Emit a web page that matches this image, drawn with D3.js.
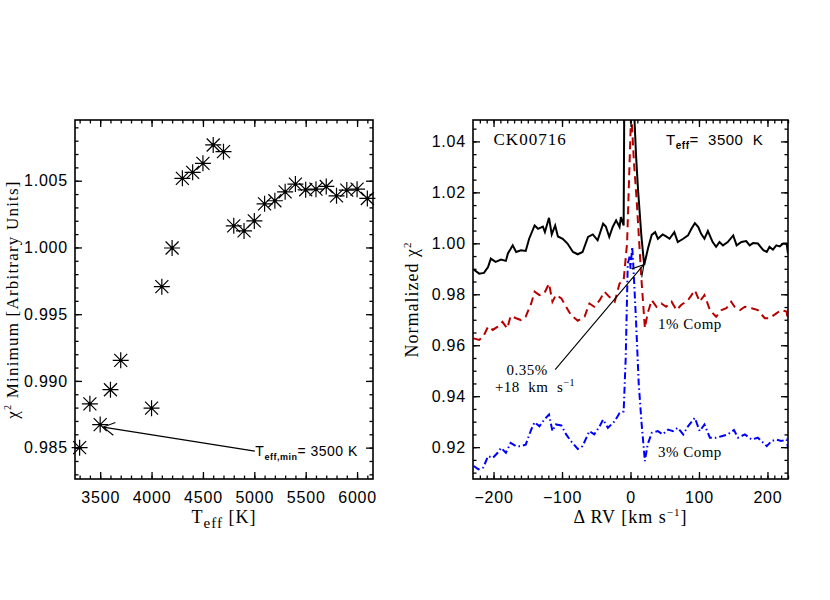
<!DOCTYPE html>
<html>
<head>
<meta charset="utf-8">
<script src="https://cdn.jsdelivr.net/npm/d3@7"></script>
<style>
body { margin: 0; background: #fff; }
svg text { fill: #000; }
.serif { font-family: "Liberation Serif", "DejaVu Serif", serif; }
.sans { font-family: "Liberation Sans", Arial, sans-serif; }
</style>
</head>
<body>
<div id="chart"></div>
<script>
// left panel: chi^2 minimum vs. template Teff
var teff = [3300, 3400, 3500, 3600, 3700, 4000, 4100, 4200, 4300, 4400, 4500, 4600, 4700, 4800,
            4900, 5000, 5100, 5200, 5300, 5400, 5500, 5600, 5700, 5800, 5900, 6000, 6100];
var chiMin = [0.98500, 0.98828, 0.98673, 0.98934, 0.99154, 0.98796, 0.99706, 0.99996, 1.00518,
              1.00563, 1.00630, 1.00768, 1.00718, 1.00162, 1.00124, 1.00199, 1.00327, 1.00350,
              1.00417, 1.00475, 1.00432, 1.00437, 1.00457, 1.00387, 1.00430, 1.00437, 1.00367];
var teffTicks = [3500, 4000, 4500, 5000, 5500, 6000];
var chiTicks = [0.985, 0.990, 0.995, 1.000, 1.005];

// right panel: normalized chi^2 vs. delta RV
var rvBlack = [-229, -221, -214, -208, -204, -197, -189, -182, -179, -172, -167, -160, -153, -148,
               -140, -135, -128, -125, -119, -115, -110, -106, -99, -92, -84, -77, -70, -62, -55,
               -48, -40, -36, -31, -26, -21, -16, -14, -10, -9, -2, 4, 8, 11, 16, 20, 26, 31, 36,
               40, 47, 52, 57, 64, 69, 77, 84, 89, 94, 99, 103, 108, 113, 120, 125, 130, 135, 142,
               150, 155, 162, 169, 174, 179, 186, 194, 199, 203, 208, 213, 218, 223, 228, 230];
var chiBlack = [0.9897, 0.9881, 0.9884, 0.9907, 0.9940, 0.9927, 0.9936, 0.9931, 0.9960, 0.9992,
                0.9966, 0.9973, 0.9970, 1.0018, 1.0070, 1.0057, 1.0066, 1.0044, 1.0100, 1.0035,
                1.0070, 1.0027, 1.0018, 0.9999, 0.9966, 0.9957, 0.9966, 1.0025, 1.0035, 1.0012,
                1.0077, 1.0066, 1.0025, 1.0064, 1.0090, 1.0064, 1.0103, 1.0070, 1.0600, 1.1000,
                1.0600, 1.0350, 1.0210, 1.0025, 0.9915, 0.9985, 1.0033, 1.0044, 1.0018, 1.0035,
                1.0027, 1.0018, 1.0044, 1.0005, 1.0018, 1.0031, 1.0057, 1.0079, 1.0064, 1.0038,
                1.0018, 1.0048, 1.0005, 0.9986, 1.0005, 0.9992, 1.0005, 1.0031, 0.9992, 1.0005,
                1.0009, 0.9992, 1.0001, 0.9999, 0.9973, 0.9966, 0.9986, 0.9975, 0.9992, 0.9988,
                0.9999, 0.9999, 0.9960];

var rvRed = [-229, -221, -215, -208, -201, -194, -187, -180, -175, -167, -160, -153, -145, -140,
             -133, -126, -119, -114, -109, -101, -94, -87, -77, -67, -60, -53, -45, -38, -31, -23,
             -16, -10, -5, -2, 1, 5, 9, 16, 21, 25, 31, 38, 45, 52, 60, 67, 74, 84, 94, 101, 108,
             116, 125, 133, 140, 147, 152, 160, 167, 177, 186, 196, 203, 213, 220, 228, 230];
var chiRed = [0.9627, 0.9621, 0.9634, 0.9673, 0.9660, 0.9673, 0.9692, 0.9666, 0.9715, 0.9706,
              0.9699, 0.9712, 0.9764, 0.9810, 0.9797, 0.9803, 0.9842, 0.9771, 0.9797, 0.9784,
              0.9751, 0.9719, 0.9696, 0.9712, 0.9764, 0.9751, 0.9777, 0.9810, 0.9790, 0.9771,
              0.9842, 0.9855, 1.0000, 1.0260, 1.0520, 1.0320, 1.0170, 0.9857, 0.9667, 0.9725,
              0.9777, 0.9751, 0.9764, 0.9751, 0.9771, 0.9738, 0.9758, 0.9777, 0.9816, 0.9771,
              0.9797, 0.9738, 0.9712, 0.9738, 0.9745, 0.9771, 0.9751, 0.9738, 0.9751, 0.9745,
              0.9738, 0.9706, 0.9706, 0.9725, 0.9738, 0.9732, 0.9692];

var rvBlue = [-229, -222, -215, -208, -201, -194, -189, -182, -175, -167, -160, -153, -145, -140,
              -133, -126, -119, -114, -109, -101, -94, -87, -77, -70, -60, -53, -45, -40, -33, -23,
              -16, -10, -7, -4, -1, 0, 2.5, 4, 8, 12, 16, 21, 25, 31, 40, 47, 55, 62, 69, 77, 84,
              94, 101, 108, 116, 125, 133, 142, 151, 157, 167, 177, 186, 199, 206, 213, 220, 228, 230];
var chiBlue = [0.9126, 0.9113, 0.9120, 0.9165, 0.9158, 0.9178, 0.9197, 0.9178, 0.9217, 0.9204,
               0.9204, 0.9210, 0.9269, 0.9298, 0.9282, 0.9308, 0.9328, 0.9263, 0.9289, 0.9285,
               0.9250, 0.9224, 0.9193, 0.9204, 0.9263, 0.9250, 0.9282, 0.9308, 0.9276, 0.9302,
               0.9334, 0.9340, 0.9550, 0.9920, 0.9950, 0.9900, 0.9986, 0.9920, 0.9700, 0.9450,
               0.9300, 0.9145, 0.9210, 0.9256, 0.9263, 0.9250, 0.9269, 0.9263, 0.9276, 0.9250,
               0.9282, 0.9315, 0.9263, 0.9289, 0.9237, 0.9237, 0.9243, 0.9250, 0.9267, 0.9237,
               0.9250, 0.9230, 0.9237, 0.9204, 0.9224, 0.9230, 0.9224, 0.9230, 0.9197];

var rvTicks = [-200, -100, 0, 100, 200];
var normTicks = [0.92, 0.94, 0.96, 0.98, 1.00, 1.02, 1.04];

var chart = (function(){
    var _width = 830, _height = 600;

    // plot frames (px)
    var _left = {x0: 75, x1: 373, y0: 120, y1: 479},
        _right = {x0: 473, x1: 788, y0: 120, y1: 479};

    var _majorLen = 7, _minorLen = 3.5;

    var _svg = null;

    function init(){
        _svg = d3.select('#chart').append('svg')
            .attr('width', _width)
            .attr('height', _height);
    }

    function _axes(g, x, y, xMajor, xMinor, yMajor, yMinor, xFmt, yFmt){
        var w = x.range()[1], h = y.range()[0];

        g.append('g').attr('transform', 'translate(0,' + h + ')')
            .call(d3.axisBottom(x).tickValues(xMinor).tickSize(-_minorLen).tickFormat(''));
        g.append('g').attr('transform', 'translate(0,' + h + ')')
            .attr('class', 'sans')
            .call(d3.axisBottom(x).tickValues(xMajor).tickSize(-_majorLen).tickPadding(13).tickFormat(xFmt));
        g.append('g')
            .call(d3.axisTop(x).tickValues(xMinor).tickSize(-_minorLen).tickFormat(''));
        g.append('g')
            .call(d3.axisTop(x).tickValues(xMajor).tickSize(-_majorLen).tickFormat(''));

        g.append('g')
            .call(d3.axisLeft(y).tickValues(yMinor).tickSize(-_minorLen).tickFormat(''));
        g.append('g')
            .attr('class', 'sans')
            .call(d3.axisLeft(y).tickValues(yMajor).tickSize(-_majorLen).tickPadding(7).tickFormat(yFmt));
        g.append('g').attr('transform', 'translate(' + w + ',0)')
            .call(d3.axisRight(y).tickValues(yMinor).tickSize(-_minorLen).tickFormat(''));
        g.append('g').attr('transform', 'translate(' + w + ',0)')
            .call(d3.axisRight(y).tickValues(yMajor).tickSize(-_majorLen).tickFormat(''));

        g.selectAll('.domain').remove();
        g.selectAll('.tick line').attr('stroke', '#000').attr('stroke-width', 1.3);
        g.selectAll('.tick text')
            .attr('font-family', null)
            .attr('font-size', 16)
            .style('letter-spacing', '0.8px');

        g.append('rect')
            .attr('width', w).attr('height', h)
            .attr('fill', 'none')
            .attr('stroke', '#000')
            .attr('stroke-width', 1.6);
    }

    // IDL-style open arrow head, tail -> tip
    function _arrow(g, x1, y1, x2, y2){
        var a = Math.atan2(y1 - y2, x1 - x2), len = 13, spread = Math.PI / 6;
        g.append('path')
            .attr('d', 'M' + x1 + ',' + y1 + 'L' + x2 + ',' + y2 +
                'M' + (x2 + len * Math.cos(a - spread)) + ',' + (y2 + len * Math.sin(a - spread)) +
                'L' + x2 + ',' + y2 +
                'L' + (x2 + len * Math.cos(a + spread)) + ',' + (y2 + len * Math.sin(a + spread)))
            .attr('fill', 'none')
            .attr('stroke', '#000')
            .attr('stroke-width', 1.1);
    }

    // text with a subscript part: [main, sub, rest]
    function _subText(g, x, y, parts, size, subSize){
        var t = g.append('text')
            .attr('class', 'sans')
            .attr('x', x).attr('y', y)
            .attr('font-size', size)
            .style('white-space', 'pre')
            .style('letter-spacing', '0.5px');
        t.append('tspan').text(parts[0]);
        t.append('tspan').attr('dy', 4).attr('font-size', subSize).attr('font-weight', 'bold').text(parts[1]);
        t.append('tspan').attr('dy', -4).text(parts[2]);
        return t;
    }

    function drawLeft(){
        var w = _left.x1 - _left.x0, h = _left.y1 - _left.y0;
        var g = _svg.append('g').attr('transform', 'translate(' + _left.x0 + ',' + _left.y0 + ')');

        var x = d3.scaleLinear().domain([3255, 6155]).range([0, w]);
        var y = d3.scaleLinear().domain([0.98265, 1.00955]).range([h, 0]);

        _axes(g, x, y, teffTicks, d3.range(3300, 6200, 100),
              chiTicks, d3.range(0.983, 1.0095, 0.001), d3.format('d'), d3.format('.3f'));

        // asterisks
        var star = 'M-8,0H8M0,-8V8M-6.5,-6.5L6.5,6.5M-6.5,6.5L6.5,-6.5';
        g.selectAll('path.star')
            .data(teff)
            .enter().append('path')
                .attr('class', 'star')
                .attr('transform', function(d, i){ return 'translate(' + x(d) + ',' + y(chiMin[i]) + ')'; })
                .attr('d', star)
                .attr('fill', 'none')
                .attr('stroke', '#000')
                .attr('stroke-width', 1.2);
        g.selectAll('circle.dot')
            .data(teff)
            .enter().append('circle')
                .attr('class', 'dot')
                .attr('cx', function(d){ return x(d); })
                .attr('cy', function(d, i){ return y(chiMin[i]); })
                .attr('r', 1.6)
                .attr('fill', '#000');

        _arrow(g, x(5005), y(0.98474), x(3530), y(0.98654));
        _subText(g, x(5010), y(0.98474) + 5, ['T', 'eff,min', '= 3500 K'], 14, 9);

        // axis titles
        var xt = g.append('text')
            .attr('class', 'serif')
            .attr('x', w / 2).attr('y', h + 44)
            .attr('text-anchor', 'middle')
            .attr('font-size', 18)
            .style('letter-spacing', '1px');
        xt.append('tspan').text('T');
        xt.append('tspan').attr('dy', 5).attr('font-size', 15).text('eff');
        xt.append('tspan').attr('dy', -5).text(' [K]');

        var yt = g.append('text')
            .attr('class', 'serif')
            .attr('transform', 'translate(' + (18 - _left.x0) + ',' + (h / 2) + ') rotate(-90)')
            .attr('text-anchor', 'middle')
            .attr('font-size', 17)
            .style('letter-spacing', '1.2px');
        yt.append('tspan').text('\u03c7');
        yt.append('tspan').attr('dy', -7).attr('font-size', 10).text('2');
        yt.append('tspan').attr('dy', 7).text(' Minimum [Arbitrary Units]');
    }

    function drawRight(){
        var w = _right.x1 - _right.x0, h = _right.y1 - _right.y0;
        var g = _svg.append('g').attr('transform', 'translate(' + _right.x0 + ',' + _right.y0 + ')');

        var x = d3.scaleLinear().domain([-230, 230]).range([0, w]);
        var y = d3.scaleLinear().domain([0.9075, 1.0484]).range([h, 0]);

        g.append('clipPath').attr('id', 'clipR')
            .append('rect').attr('width', w).attr('height', h);

        var series = [
            {rv: rvBlue, chi: chiBlue, color: '#0000ff', dash: '7,3,1.5,3'},
            {rv: rvRed, chi: chiRed, color: '#b80000', dash: '8,5'},
            {rv: rvBlack, chi: chiBlack, color: '#000000', dash: null}
        ];

        g.append('g').attr('clip-path', 'url(#clipR)')
            .selectAll('path')
            .data(series)
            .enter().append('path')
                .attr('d', function(s){
                    return d3.line()
                        .x(function(d){ return x(d); })
                        .y(function(d, i){ return y(s.chi[i]); })(s.rv);
                })
                .attr('fill', 'none')
                .attr('stroke', function(s){ return s.color; })
                .attr('stroke-width', 2)
                .attr('stroke-dasharray', function(s){ return s.dash; });

        _axes(g, x, y, rvTicks, d3.range(-220, 231, 10),
              normTicks, d3.range(0.91, 1.048, 0.005), d3.format('d'), d3.format('.2f'));

        // labels
        g.append('text')
            .attr('class', 'serif')
            .attr('x', x(-200)).attr('y', y(1.0386))
            .attr('font-size', 17)
            .style('letter-spacing', '1px')
            .text('CK00716');
        _subText(g, x(52), y(1.0386), ['T', 'eff', '=  3500  K'], 15, 10);

        g.append('text')
            .attr('class', 'serif')
            .attr('x', x(40)).attr('y', y(0.9664))
            .attr('font-size', 15)
            .style('letter-spacing', '0.5px')
            .text('1% Comp');
        g.append('text')
            .attr('class', 'serif')
            .attr('x', x(40)).attr('y', y(0.9162))
            .attr('font-size', 15)
            .style('letter-spacing', '0.5px')
            .text('3% Comp');

        g.append('text')
            .attr('class', 'serif')
            .attr('x', x(-151)).attr('y', y(0.9484))
            .attr('text-anchor', 'middle')
            .attr('font-size', 15)
            .style('letter-spacing', '0.5px')
            .text('0.35%');
        var kt = g.append('text')
            .attr('class', 'serif')
            .attr('x', x(-198)).attr('y', y(0.9418))
            .attr('font-size', 15)
            .style('white-space', 'pre')
            .style('letter-spacing', '0.5px');
        kt.append('tspan').text('+18  km  s');
        kt.append('tspan').attr('dy', -6).attr('font-size', 10).text('\u22121');

        _arrow(g, x(-110), y(0.9504), x(19.7), y(0.9917));

        // axis titles
        var xt = g.append('text')
            .attr('class', 'serif')
            .attr('x', w / 2).attr('y', h + 44)
            .attr('text-anchor', 'middle')
            .attr('font-size', 18)
            .style('white-space', 'pre')
            .style('letter-spacing', '1px');
        xt.append('tspan').text('\u0394 RV [km s');
        xt.append('tspan').attr('dy', -7).attr('font-size', 11).text('\u22121');
        xt.append('tspan').attr('dy', 7).text(']');

        var yt = g.append('text')
            .attr('class', 'serif')
            .attr('transform', 'translate(' + (418 - _right.x0) + ',' + (h / 2) + ') rotate(-90)')
            .attr('text-anchor', 'middle')
            .attr('font-size', 18)
            .style('letter-spacing', '1px');
        yt.append('tspan').text('Normalized \u03c7');
        yt.append('tspan').attr('dy', -7).attr('font-size', 11).text('2');
    }

    return {
        init: init,
        drawLeft: drawLeft,
        drawRight: drawRight
    };
})();

chart.init();
chart.drawLeft();
chart.drawRight();
</script>
</body>
</html>
